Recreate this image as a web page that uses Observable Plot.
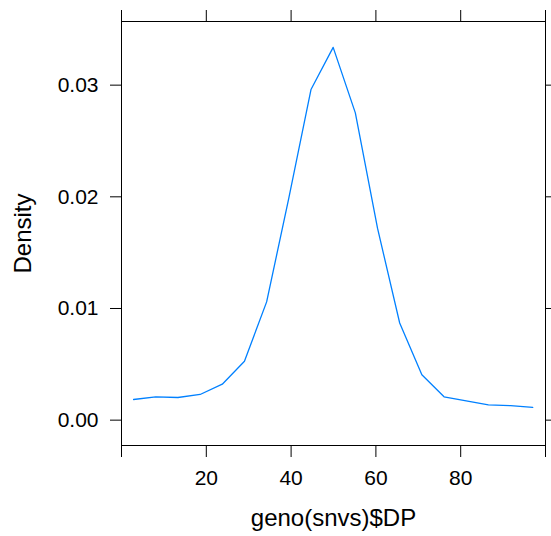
<!DOCTYPE html>
<html>
<head>
<meta charset="utf-8">
<script src="https://cdn.jsdelivr.net/npm/d3@7"></script>
<script src="https://cdn.jsdelivr.net/npm/@observablehq/plot@0.6"></script>
<style>
  html, body { margin: 0; padding: 0; background: #fff; }
  svg { display: block; }
</style>
</head>
<body>
<div id="chart"></div>
<script>
const dp = [2.85, 8.08, 13.31, 18.54, 23.77, 29.0, 34.23, 39.46, 44.69, 49.92, 55.15, 60.38, 65.61, 70.84, 76.07, 81.3, 86.53, 91.76, 96.99];
const density = [0.00185, 0.00209, 0.00203, 0.00230, 0.00322, 0.00528, 0.01059, 0.01988, 0.02961, 0.03338, 0.02752, 0.01719, 0.00870, 0.00406, 0.00209, 0.00172, 0.00137, 0.00130, 0.00114];
const xTicks = [0, 20, 40, 60, 80, 100];
const xTickLabels = ["", "20", "40", "60", "80", ""];
const yTicks = [0, 0.01, 0.02, 0.03];
const yTickLabels = ["0.00", "0.01", "0.02", "0.03"];
const xLabel = "geno(snvs)$DP";
const yLabel = "Density";

const data = dp.map((x, i) => ({x, y: density[i]}));
const font = "'Liberation Sans', Arial, Helvetica, sans-serif";

const chart = Plot.plot({
  width: 551,
  height: 536,
  marginLeft: 121,
  marginRight: 6,
  marginTop: 21,
  marginBottom: 91,
  style: {fontFamily: font, color: "black", background: "white", overflow: "visible"},
  x: {domain: [0, 100]},
  y: {domain: [-0.00227, 0.0357]},
  marks: [
    Plot.frame({stroke: "black", strokeWidth: 1}),
    Plot.axisX({anchor: "bottom", ticks: xTicks, tickSize: 12, tickPadding: 13, fontSize: 21,
      tickFormat: (d) => xTickLabels[xTicks.indexOf(d)], label: null, stroke: "black"}),
    Plot.axisX({anchor: "bottom", ticks: [], label: xLabel, labelArrow: "none", labelAnchor: "center", labelOffset: 80, fontSize: 24}),
    Plot.axisX({anchor: "top", ticks: xTicks, tickSize: 12, tickFormat: () => "", label: null, stroke: "black"}),
    Plot.axisY({anchor: "left", ticks: yTicks, tickSize: 11, tickPadding: 12, fontSize: 21,
      tickFormat: (d) => yTickLabels[yTicks.indexOf(d)], label: null, stroke: "black"}),
    Plot.axisY({anchor: "left", ticks: [], label: yLabel, labelArrow: "none", labelAnchor: "center", labelOffset: 108, fontSize: 24}),
    Plot.axisY({anchor: "right", ticks: yTicks, tickSize: 11, tickFormat: () => "", label: null, stroke: "black"}),
    Plot.line(data, {x: "x", y: "y", stroke: "#0080ff", strokeWidth: 1.3})
  ]
});
document.getElementById("chart").appendChild(chart);
</script>
</body>
</html>
